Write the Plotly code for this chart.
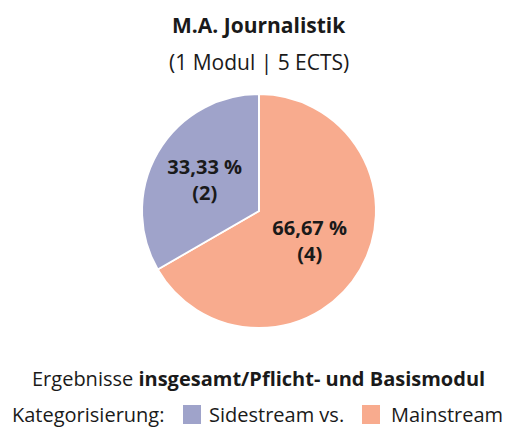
import plotly.graph_objects as go

# pie order (clockwise from 12 o'clock)
categories = ["Mainstream", "Sidestream vs."]
counts = [4, 2]
percent_labels = ["66,67 %", "33,33 %"]
colors = ["#f8ab8e", "#9fa3ca"]

# legend order
legend_categories = ["Sidestream vs.", "Mainstream"]
legend_colors = ["#9fa3ca", "#f8ab8e"]

title = "M.A. Journalistik"
subtitle = "(1 Modul | 5 ECTS)"
caption = "Ergebnisse <b>insgesamt/Pflicht- und Basismodul</b>"
legend_title = "Kategorisierung:"

FONT = "Open Sans"
TXT = "#1a1a1a"
W, H = 507, 430

texts = [f"<b>{p}<br>({c})</b>" for p, c in zip(percent_labels, counts)]

fig = go.Figure(go.Pie(
    labels=categories,
    values=counts,
    text=texts,
    textinfo="text",
    textposition="inside",
    insidetextorientation="horizontal",
    insidetextfont=dict(family=FONT, size=20, color=TXT),
    marker=dict(colors=colors, line=dict(color="white", width=2)),
    sort=False,
    direction="clockwise",
    rotation=0,
    hoverinfo="skip",
    showlegend=False,
    domain=dict(x=[(259 - 117) / W, (259 + 117) / W], y=[1 - 328 / H, 1 - 94 / H]),
))

LEG_Y = 414
annotations = [
    dict(text=f"<b>{title}</b>", x=259 / W, y=1 - 25 / H, font=dict(size=21)),
    dict(text=subtitle, x=259 / W, y=1 - 62 / H, font=dict(size=21)),
    dict(text=caption, x=258 / W, y=1 - 378 / H, font=dict(size=20)),
    dict(text=legend_title, x=10 / W, y=1 - LEG_Y / H, xanchor="left", font=dict(size=20)),
]
shapes = []

# manual legend: square + label per category
sq_left = [183, 362]
lbl_left = [207, 389]
for cat, col, sx, lx in zip(legend_categories, legend_colors, sq_left, lbl_left):
    shapes.append(dict(type="rect", xref="paper", yref="paper",
                       x0=sx / W, x1=(sx + 18) / W,
                       y0=1 - (LEG_Y + 10) / H, y1=1 - (LEG_Y - 9) / H,
                       fillcolor=col, line=dict(width=0)))
    annotations.append(dict(text=cat, x=lx / W, y=1 - LEG_Y / H, xanchor="left",
                            font=dict(size=20)))

for a in annotations:
    a.update(xref="paper", yref="paper", showarrow=False, yanchor="middle")
    a.setdefault("xanchor", "center")
    a["font"].update(family=FONT, color=TXT)

fig.update_layout(
    width=W, height=H,
    margin=dict(l=0, r=0, t=0, b=0),
    paper_bgcolor="white",
    plot_bgcolor="white",
    font=dict(family=FONT, color=TXT),
    showlegend=False,
    annotations=annotations,
    shapes=shapes,
)

fig.write_html("out.html", config={"displayModeBar": False},
               post_script="document.body.style.margin='0';document.body.style.overflow='hidden';")
